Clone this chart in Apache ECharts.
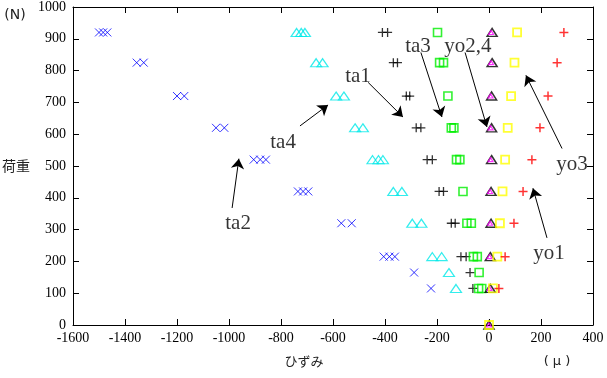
<!DOCTYPE html>
<html>
<head>
<meta charset="utf-8">
<script src="https://cdn.jsdelivr.net/npm/echarts@6/dist/echarts.min.js"></script>
<style>
  html, body { margin: 0; padding: 0; background: #fff; }
  #chart { width: 607px; height: 378px; }
</style>
</head>
<body>
<div id="chart"></div>
<script>
// ひずみ (μ) / 荷重 (N) pairs, several gauges overlap at each load step
var ta1 = [[-410, 920], [-390, 920], [-368, 825], [-352, 825], [-318, 720], [-305, 720],
  [-280, 620], [-262, 620], [-238, 520], [-218, 520], [-192, 420], [-175, 420],
  [-145, 320], [-130, 320], [-108, 215], [-88, 215], [-73, 165], [-62, 115]];
var ta2 = [[-1500, 920], [-1484, 920], [-1468, 920], [-1355, 825], [-1328, 825],
  [-1200, 720], [-1172, 720], [-1050, 620], [-1018, 620], [-905, 520], [-880, 520],
  [-858, 520], [-735, 420], [-715, 420], [-695, 420], [-568, 320], [-528, 320],
  [-405, 215], [-383, 215], [-362, 215], [-288, 165], [-223, 115]];
var ta3 = [[-198, 920], [-190, 825], [-175, 825], [-158, 720], [-145, 620], [-135, 620],
  [-125, 520], [-112, 520], [-100, 420], [-85, 320], [-68, 320], [-60, 215], [-45, 215],
  [-38, 165], [-40, 115], [-28, 115]];
var ta4 = [[-740, 920], [-722, 920], [-708, 920], [-665, 825], [-640, 825], [-588, 720],
  [-558, 720], [-515, 620], [-485, 620], [-448, 520], [-425, 520], [-408, 520],
  [-368, 420], [-335, 420], [-295, 320], [-260, 320], [-218, 215], [-182, 215],
  [-154, 165], [-127, 115]];
var yo1 = [[288, 920], [262, 825], [227, 720], [196, 620], [165, 520], [131, 420],
  [96, 320], [62, 215], [38, 115]];
var yo2 = [[8, 920], [8, 825], [6, 720], [6, 620], [6, 520], [4, 420], [4, 320],
  [2, 215], [2, 115], [0, 0]];
var yo3 = [[108, 920], [98, 825], [85, 720], [72, 620], [62, 520], [52, 420], [42, 320],
  [32, 215], [15, 115], [0, 0]];
var yo4 = [[12, 920], [12, 825], [10, 720], [10, 620], [10, 520], [8, 420], [8, 320],
  [5, 215], [5, 115], [0, 0]];

// annotations (data coords)
var noteText = ['ta1', 'ta2', 'ta3', 'ta4', 'yo1', 'yo2,4', 'yo3'];
var noteAt = [[-504, 782], [-965, 318], [-273, 875], [-792, 573], [231, 224], [-81, 875], [319, 505]];
var arrowFrom = [[-465, 763], [-988, 368], [-262, 857], [-727, 626], [223, 274], [-92, 857], [281, 555]];
var arrowTo = [[-331, 654], [-962, 523], [-181, 654], [-619, 692], [169, 430], [-8, 623], [142, 785]];

var PLUS = 'path://M0,4L8,4M4,0L4,8';
var CROSS = 'path://M0,0L8,8M8,0L0,8';

function pts (name, data, symbol, size, color, bw) {
  return {
    name: name,
    type: 'scatter',
    data: data,
    symbol: symbol,
    symbolSize: size,
    itemStyle: { color: 'transparent', borderColor: color, borderWidth: bw },
    silent: true
  }
}

var chart = echarts.init(document.getElementById('chart'));

var tickFont = {
  fontFamily: 'Liberation Serif', fontSize: 14, color: '#000',
  formatter: function (v) { return String(v) }
};
var axLine = { show: true, onZero: false, lineStyle: { color: '#000', width: 1 } };
var axTick = { show: true, inside: true, length: 6, lineStyle: { color: '#000' } };

var option = {
  animation: false,
  backgroundColor: '#fff',
  grid: { left: 73, right: 14, top: 5, bottom: 53 },
  xAxis: [{
    type: 'value', min: -1600, max: 400, interval: 200,
    axisLine: axLine, axisTick: axTick,
    axisLabel: Object.assign({ margin: 6 }, tickFont),
    splitLine: { show: false }
  }, {
    type: 'value', position: 'top', min: -1600, max: 400, interval: 200,
    axisLine: axLine, axisTick: axTick,
    axisLabel: { show: false },
    splitLine: { show: false }
  }],
  yAxis: [{
    type: 'value', min: 0, max: 1000, interval: 100,
    axisLine: axLine, axisTick: axTick,
    axisLabel: Object.assign({ margin: 7 }, tickFont),
    splitLine: { show: false }
  }, {
    type: 'value', position: 'right', min: 0, max: 1000, interval: 100,
    axisLine: axLine, axisTick: axTick,
    axisLabel: { show: false },
    splitLine: { show: false }
  }],
  graphic: [
    { type: 'text', x: 15, y: 15, style: { text: '(N)', font: '14px "DejaVu Sans"', fill: '#222', align: 'center', verticalAlign: 'middle' } },
    { type: 'text', x: 16, y: 166, style: { text: '荷重', font: '14px "Noto Sans CJK JP"', fill: '#222', align: 'center', verticalAlign: 'middle' } },
    { type: 'text', x: 304, y: 361, style: { text: 'ひずみ', font: '13px "Noto Sans CJK JP"', fill: '#222', align: 'center', verticalAlign: 'middle' } },
    { type: 'text', x: 557, y: 362, style: { text: '( μ )', font: '13px "DejaVu Sans"', fill: '#222', align: 'center', verticalAlign: 'middle' } }
  ],
  series: [
    pts('ta2', ta2, CROSS, 8, '#0000ff', 1),
    pts('ta4', ta4, 'triangle', [11, 8], '#00e8e8', 1.2),
    pts('ta1', ta1, PLUS, 9, '#000000', 1.3),
    pts('ta3', ta3, 'rect', 8, '#00ee00', 1.6),
    pts('yo4', yo4, 'triangle', [10, 8], '#000000', 1.5),
    pts('yo2', yo2, 'triangle', [5, 4], '#ff00ff', 1.2),
    pts('yo3', yo3, 'rect', 8, '#ffff00', 1.8),
    pts('yo1', yo1, PLUS, 9, '#ff0000', 1.5),
    {
      name: 'notes',
      type: 'scatter',
      symbolSize: 1,
      silent: true,
      itemStyle: { color: 'transparent' },
      data: noteText.map(function (t, i) { return { name: t, value: noteAt[i] } }),
      label: {
        show: true, position: 'inside', formatter: '{b}',
        fontFamily: 'Liberation Serif', fontSize: 21, color: '#000'
      },
      markLine: {
        silent: true,
        animation: false,
        symbol: ['none', 'arrow'],
        symbolSize: 10,
        label: { show: false },
        lineStyle: { color: '#000', width: 1, type: 'solid' },
        data: arrowFrom.map(function (p, i) {
          return [{ coord: p }, { coord: arrowTo[i] }]
        })
      }
    }
  ]
};

chart.setOption(option);
</script>
</body>
</html>
